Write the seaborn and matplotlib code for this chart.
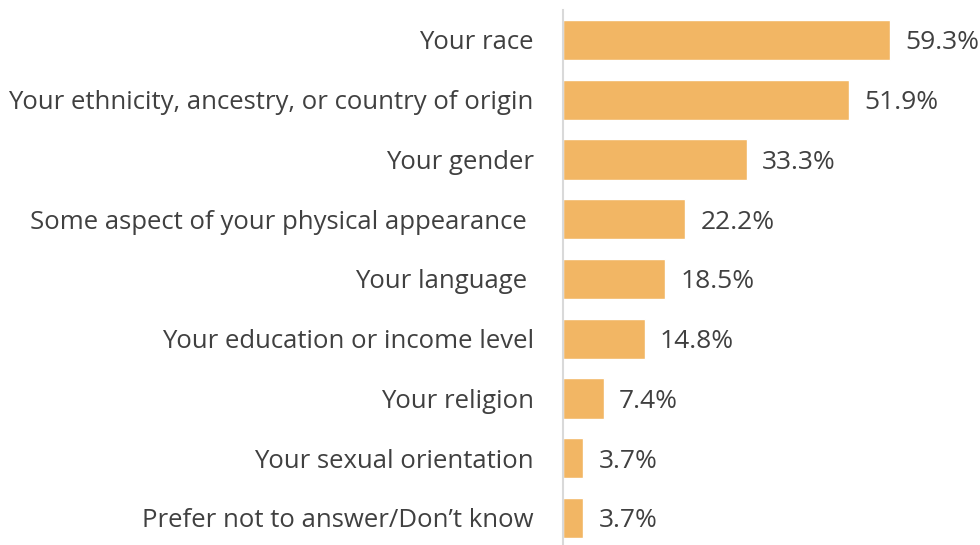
import matplotlib
matplotlib.use("Agg")
import matplotlib.pyplot as plt
import seaborn as sns
import pandas as pd

categories = [
    "Your race",
    "Your ethnicity, ancestry, or country of origin",
    "Your gender",
    "Some aspect of your physical appearance ",
    "Your language ",
    "Your education or income level",
    "Your religion",
    "Your sexual orientation",
    "Prefer not to answer/Don\u2019t know",
]
percentages = [59.3, 51.9, 33.3, 22.2, 18.5, 14.8, 7.4, 3.7, 3.7]

df = pd.DataFrame({"category": categories, "pct": percentages})

sns.set_theme(style="white")
plt.rcParams["font.family"] = ["Open Sans", "DejaVu Sans"]

W, H = 980, 545
fig = plt.figure(figsize=(W / 100, H / 100), dpi=100)
left, top, bottom, right = 563, 10, 545, 976
ax = fig.add_axes([left / W, 1 - bottom / H, (right - left) / W, (bottom - top) / H])

bar_color = "#F2B664"
sns.barplot(data=df, x="pct", y="category", orient="h", color=bar_color,
            width=0.67, saturation=1, ax=ax)

ax.set_xlim(0, (right - left) / 5.515)
ax.set_ylim(8.452, -0.502)

text_color = "#404040"
label_fs = 18.5
value_fs = 19
for i, v in enumerate(percentages):
    ax.annotate(f"{v:.1f}%", xy=(v, i), xytext=(11, -2), textcoords="offset points",
                ha="left", va="center", fontsize=value_fs, color=text_color,
                annotation_clip=False)

ax.set_xlabel("")
ax.set_ylabel("")
ax.set_xticks([])
ax.tick_params(axis="y", length=0, pad=21, labelsize=label_fs, labelcolor=text_color)
for s in ["top", "right", "bottom"]:
    ax.spines[s].set_visible(False)
ax.spines["left"].set_color("#D9D9D9")
ax.spines["left"].set_linewidth(1.5)

fig.savefig("out.png", dpi=100)
